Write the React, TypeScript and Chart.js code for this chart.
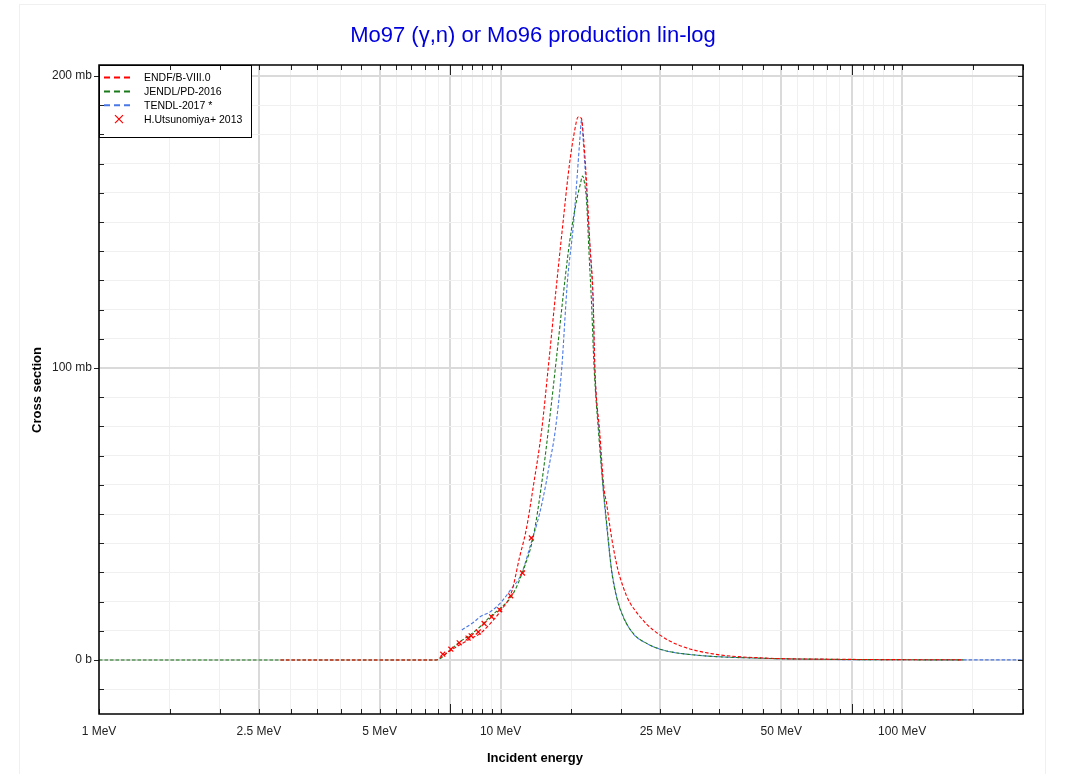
import React, { useEffect, useRef } from 'react';
import { Chart, registerables } from 'chart.js';

Chart.register(...registerables);

const TITLE = 'Mo97 (γ,n) or Mo96 production lin-log';
const X_TITLE = 'Incident energy';
const Y_TITLE = 'Cross section';

// ENDF/B-VIII.0 (MeV, mb)
const endfE = [2.83, 6.9, 7.1, 7.5, 8.0, 8.5, 8.9, 9.4, 10.0, 10.66, 11.15, 11.58, 12.06, 12.66, 13.15, 13.74, 14.27, 14.82, 15.3, 15.6, 15.9, 16.06, 16.38, 16.69, 17.0, 17.17, 17.67, 18.08, 18.36, 18.89, 19.44, 19.82, 20.59, 21.0, 22.2, 23.1, 24.9, 27.9, 33.8, 45, 70, 100, 142];
const endfXS = [0, 0, 1.0, 3.2, 5.6, 7.6, 9.1, 12.3, 16.8, 23.4, 35.2, 44.5, 59.3, 78.8, 100.4, 126.7, 148.4, 169, 181.5, 186, 185.5, 180.4, 163.3, 142.3, 124.4, 100.4, 77.6, 59.3, 53.7, 42.2, 33, 28.5, 22, 19.6, 15.0, 12.3, 8.6, 5.0, 2.1, 0.7, 0.25, 0.12, 0.06];

// JENDL/PD-2016
const jendlE = [1, 6.9, 7.49, 7.93, 8.4, 8.89, 9.42, 9.97, 10.66, 11.39, 12.06, 12.66, 13.27, 13.79, 14.46, 14.88, 15.47, 15.8, 16.0, 16.2, 16.38, 16.6, 16.85, 17.1, 17.55, 18.0, 18.17, 18.52, 18.89, 19.44, 20.2, 21.4, 23.1, 25.4, 30.6, 45, 70, 100, 142];
const jendlXS = [0, 0, 3.4, 6.3, 8.6, 11.4, 14.8, 17.7, 21.9, 30.8, 42.2, 60.5, 83.3, 103.9, 130, 143.8, 157.5, 163, 165.8, 163, 157, 140, 122, 100, 77.6, 59.3, 53.7, 42.2, 30.8, 21.7, 14.8, 9.1, 5.7, 3.4, 1.7, 0.6, 0.2, 0.08, 0.04];

// TENDL-2017
const tendlE = [8.01, 8.6, 8.89, 9.42, 9.97, 10.59, 11.29, 11.84, 12.5, 13.0, 13.15, 13.69, 14.19, 14.68, 15.17, 15.47, 15.75, 15.91, 16.06, 16.38, 16.69, 17.0, 17.17, 17.6, 18.0, 18.5, 18.9, 19.44, 20.2, 21.4, 23.1, 25.4, 30.6, 45, 70, 100, 200];
const tendlXS = [10.3, 13.1, 14.8, 16.5, 19.4, 24, 29.7, 38.8, 50, 61, 65, 78.8, 99.3, 130, 148.4, 163.3, 178, 185, 178, 160, 142, 122, 100, 78, 59, 42, 31, 22, 15, 9, 5.7, 3.4, 1.7, 0.6, 0.15, 0.08, 0.03];

// H.Utsunomiya+ 2013
const expE = [7.18, 7.52, 7.89, 8.3, 8.45, 8.8, 9.1, 9.5, 9.95, 10.6, 11.34, 11.93];
const expXS = [2.0, 3.7, 5.9, 7.5, 8.3, 9.6, 12.5, 14.8, 17.2, 22.0, 29.8, 41.8];

const seriesLabels = ['ENDF/B-VIII.0', 'JENDL/PD-2016', 'TENDL-2017 *', 'H.Utsunomiya+ 2013'];
const seriesColors = ['#ff0000', '#1a7a1a', '#4a78e6', '#ff0000'];

const xTickValues = [1, 1.5, 2, 2.5, 3, 3.5, 4, 4.5, 5, 5.5, 6, 6.5, 7, 7.5, 8, 8.5, 9, 9.5, 10, 15, 20, 25, 30, 35, 40, 45, 50, 55, 60, 65, 70, 75, 80, 85, 90, 95, 100, 150, 200];
const xTickLabels: Record<string, string> = { '1': '1 MeV', '2.5': '2.5 MeV', '5': '5 MeV', '10': '10 MeV', '25': '25 MeV', '50': '50 MeV', '100': '100 MeV' };
const xMajorGrid = [1, 2.5, 5, 7.5, 10, 25, 50, 75, 100];
const xLongTicks = [7.5, 75];

const yTickValues = [-10, 0, 10, 20, 30, 40, 50, 60, 70, 80, 90, 100, 110, 120, 130, 140, 150, 160, 170, 180, 190, 200];
const yTickLabels: Record<string, string> = { '0': '0 b', '100': '100 mb', '200': '200 mb' };
const yMajor = [0, 100, 200];

const FONT = '"Liberation Sans", Arial, Helvetica, sans-serif';

const toXY = (xs: number[], ys: number[]) => xs.map((x, i) => ({ x, y: ys[i] }));

const decorPlugin = {
  id: 'decor',
  afterDraw(chart: any) {
    const { ctx, chartArea, scales } = chart;
    const { left, right, top, bottom } = chartArea;
    const xs = scales.x;
    const ys = scales.y;
    ctx.save();

    // title
    ctx.fillStyle = '#0000dd';
    ctx.font = `22px ${FONT}`;
    ctx.textAlign = 'center';
    ctx.textBaseline = 'middle';
    ctx.fillText(TITLE, 533, 36);

    // axis titles
    ctx.fillStyle = '#000';
    ctx.font = `bold 13px ${FONT}`;
    ctx.fillText(X_TITLE, 535, 758);
    ctx.save();
    ctx.translate(37, 390);
    ctx.rotate(-Math.PI / 2);
    ctx.fillText(Y_TITLE, 0, 0);
    ctx.restore();

    // legend box
    const lx = left, ly = top, lw = 152, lh = 72;
    ctx.fillStyle = '#fff';
    ctx.fillRect(lx, ly, lw, lh);
    ctx.strokeStyle = '#000';
    ctx.lineWidth = 1;
    ctx.strokeRect(lx + 0.5, ly + 0.5, lw, lh);
    ctx.font = `10.5px ${FONT}`;
    ctx.textAlign = 'left';
    ctx.textBaseline = 'middle';
    seriesLabels.forEach((lab, i) => {
      const cy = ly + 12.5 + i * 13.9;
      ctx.strokeStyle = seriesColors[i];
      if (i < 3) {
        ctx.lineWidth = 2;
        ctx.setLineDash([6, 4]);
        ctx.beginPath();
        ctx.moveTo(lx + 5, cy);
        ctx.lineTo(lx + 33, cy);
        ctx.stroke();
        ctx.setLineDash([]);
      } else {
        ctx.lineWidth = 1.2;
        const cx = lx + 20, r = 4;
        ctx.beginPath();
        ctx.moveTo(cx - r, cy - r);
        ctx.lineTo(cx + r, cy + r);
        ctx.moveTo(cx + r, cy - r);
        ctx.lineTo(cx - r, cy + r);
        ctx.stroke();
      }
      ctx.fillStyle = '#000';
      ctx.fillText(lab, lx + 45, cy + 0.5);
    });

    // ticks
    ctx.strokeStyle = '#222';
    ctx.lineWidth = 1;
    ctx.beginPath();
    xTickValues.forEach((v) => {
      const px = Math.round(xs.getPixelForValue(v)) + 0.5;
      const len = xLongTicks.includes(v) ? 10 : 5;
      ctx.moveTo(px, bottom);
      ctx.lineTo(px, bottom - len);
      ctx.moveTo(px, top);
      ctx.lineTo(px, top + len);
    });
    yTickValues.forEach((v) => {
      const py = Math.round(ys.getPixelForValue(v)) + 0.5;
      if (yMajor.includes(v)) {
        ctx.moveTo(left - 5, py);
        ctx.lineTo(left, py);
      } else {
        ctx.moveTo(left, py);
        ctx.lineTo(left + 5, py);
      }
      ctx.moveTo(right, py);
      ctx.lineTo(right - 5, py);
    });
    ctx.stroke();

    // frame
    ctx.strokeStyle = '#000';
    ctx.lineWidth = 1.5;
    ctx.strokeRect(left, top, right - left, bottom - top);
    ctx.restore();
  },
};

export default function App() {
  const ref = useRef<HTMLCanvasElement | null>(null);

  useEffect(() => {
    if (!ref.current) return;
    Chart.defaults.font.family = FONT;
    const lineDs = (i: number, data: any[]) => ({
      label: seriesLabels[i],
      data,
      borderColor: seriesColors[i],
      backgroundColor: seriesColors[i],
      borderWidth: 1.1,
      borderDash: [3.5, 2],
      pointRadius: 0,
      fill: false,
      cubicInterpolationMode: 'monotone' as const,
    });
    const chart = new Chart(ref.current, {
      type: 'line',
      data: {
        datasets: [
          lineDs(0, toXY(endfE, endfXS)),
          lineDs(1, toXY(jendlE, jendlXS)),
          lineDs(2, toXY(tendlE, tendlXS)),
          {
            label: seriesLabels[3],
            data: toXY(expE, expXS),
            showLine: false,
            pointStyle: 'crossRot',
            pointRadius: 3.5,
            pointBorderWidth: 1.2,
            borderColor: seriesColors[3],
            backgroundColor: seriesColors[3],
            order: -1,
          } as any,
        ],
      },
      options: {
        responsive: false,
        maintainAspectRatio: false,
        devicePixelRatio: 1,
        animation: false,
        layout: { padding: { top: 65, right: 48, bottom: 0, left: 0 } },
        plugins: {
          legend: { display: false },
          title: { display: false },
          tooltip: { enabled: false },
        },
        scales: {
          x: {
            type: 'logarithmic',
            min: 1,
            max: 200,
            afterBuildTicks: (scale: any) => {
              scale.ticks = xTickValues.map((v) => ({ value: v }));
            },
            afterFit: (scale: any) => {
              scale.height = 60;
            },
            ticks: {
              autoSkip: false,
              maxRotation: 0,
              padding: 10,
              color: '#222',
              font: { size: 12, family: FONT },
              callback: (v: any) => xTickLabels[String(v)] ?? '',
            },
            grid: {
              drawTicks: false,
              color: (c: any) => (xMajorGrid.includes(c.tick?.value) ? '#dadada' : '#f0f0f0'),
              lineWidth: (c: any) => (xMajorGrid.includes(c.tick?.value) ? 2 : 1),
            },
            border: { display: false },
          },
          y: {
            type: 'linear',
            min: -18.49,
            max: 203.8,
            afterBuildTicks: (scale: any) => {
              scale.ticks = yTickValues.map((v) => ({ value: v }));
            },
            afterFit: (scale: any) => {
              scale.width = 99;
            },
            ticks: {
              autoSkip: false,
              padding: 7,
              color: '#222',
              font: { size: 12, family: FONT },
              callback: (v: any) => yTickLabels[String(v)] ?? '',
            },
            grid: {
              drawTicks: false,
              color: (c: any) => (yMajor.includes(c.tick?.value) ? '#dadada' : '#f0f0f0'),
              lineWidth: (c: any) => (yMajor.includes(c.tick?.value) ? 2 : 1),
            },
            border: { display: false },
          },
        },
      },
      plugins: [decorPlugin],
    });
    return () => chart.destroy();
  }, []);

  return (
    <div style={{ position: 'absolute', left: 0, top: 0, width: 1071, height: 774, background: '#fff' }}>
      <div
        style={{
          position: 'absolute',
          left: 19,
          top: 4,
          width: 1027,
          height: 780,
          border: '1px solid #f0f0f0',
          boxSizing: 'border-box',
        }}
      />
      <canvas ref={ref} width={1071} height={774} style={{ position: 'absolute', left: 0, top: 0 }} />
    </div>
  );
}
